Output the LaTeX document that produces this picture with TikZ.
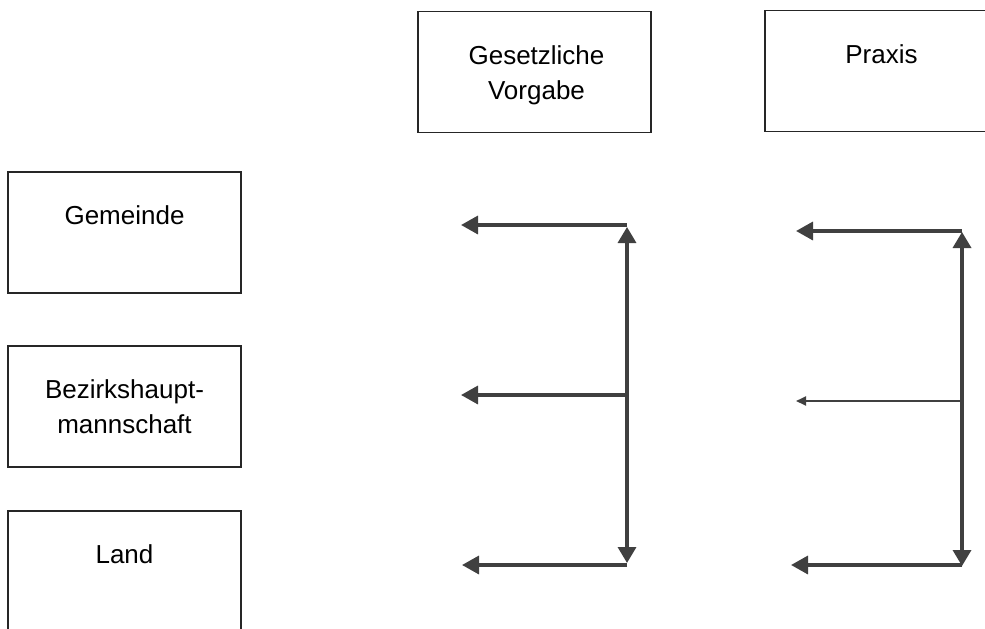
\documentclass[tikz,border=0pt]{standalone}
\usepackage{fontspec}
\setmainfont{Liberation Sans}
\usetikzlibrary{arrows.meta}
\begin{document}
\begin{tikzpicture}[x=1pt,y=-1pt,
  box/.style={draw=black!85,line width=1.2pt,minimum width=233pt,minimum height=121pt,inner sep=0pt,outer sep=0pt},
  lbl/.style={font=\fontsize{26}{35}\selectfont,align=center,anchor=north,inner sep=0pt},
  flow/.style={draw=black!75,line width=3.4pt,-{Triangle[length=17pt,width=18pt]}},
  both/.style={draw=black!75,line width=3.4pt,{Triangle[length=16pt,width=18pt]}-{Triangle[length=16pt,width=18pt]}},
  thinflow/.style={draw=black!75,line width=2pt,-{Triangle[length=10pt,width=9pt]}}]
\useasboundingbox (0,0) rectangle (985,629);
\clip (0,0) rectangle (985,629);

% levels of administration
\node[box] (gem)  at (124.5,232.5) {};
\node[box] (bez)  at (124.5,406.5) {};
\node[box] (land) at (124.5,571.5) {};
\node[lbl] (gem-t)  at ([yshift=-33.5pt]gem.north)  {Gemeinde};
\node[lbl] (bez-t)  at ([yshift=-33.5pt]bez.north)  {Bezirkshaupt-\\mannschaft};
\node[lbl] (land-t) at ([yshift=-33.5pt]land.north) {Land};

% column headings
\node[box] (gv)   at (534.5,72) {};
\node[box] (prax) at (881.5,71) {};
\node[lbl] (gv-t)   at ([xshift=2pt,yshift=-33.5pt]gv.north) {Gesetzliche\\Vorgabe};
\node[lbl] (prax-t) at ([yshift=-33.5pt]prax.north) {Praxis};

% legal framework: flows
\coordinate (l-top) at (627,225);
\coordinate (l-mid) at (627,395);
\coordinate (l-bot) at (627,565);
\coordinate (l-top-tip) at (461,225);
\coordinate (l-mid-tip) at (461,395);
\coordinate (l-bot-tip) at (462,565);
\coordinate (l-up)   at (627,227);
\coordinate (l-down) at (627,563);
\draw[both] (l-down) -- (l-up);
\draw[flow] (l-top) -- (l-top-tip);
\draw[flow] (l-mid) -- (l-mid-tip);
\draw[flow] (l-bot) -- (l-bot-tip);

% practice: flows
\coordinate (r-top) at (962,231);
\coordinate (r-mid) at (962,401);
\coordinate (r-bot) at (962,565);
\coordinate (r-top-tip) at (796,231);
\coordinate (r-mid-tip) at (796,401);
\coordinate (r-bot-tip) at (791,565);
\coordinate (r-up)   at (962,232);
\coordinate (r-down) at (962,566);
\draw[both] (r-down) -- (r-up);
\draw[flow] (r-top) -- (r-top-tip);
\draw[thinflow] (r-mid) -- (r-mid-tip);
\draw[flow] (r-bot) -- (r-bot-tip);
\end{tikzpicture}
\end{document}
